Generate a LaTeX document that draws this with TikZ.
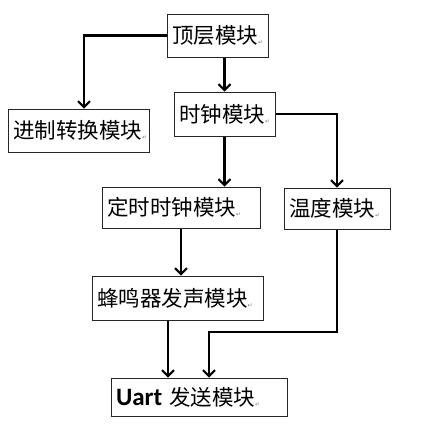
\documentclass[tikz,border=0pt]{standalone}
\usepackage{fontspec}
\usetikzlibrary{arrows.meta}
\newfontfamily\cjk{Noto Sans CJK SC}
\newfontfamily\latinb{Carlito}
\newfontfamily\markfont{DejaVu Sans}
\newcommand{\pmark}{{\markfont\fontsize{6}{6}\selectfont\textcolor{gray}{\raisebox{-1pt}{↵}}}}
\tikzset{
  box/.style={draw=black!85, line width=1pt, rectangle, inner xsep=5pt, inner ysep=0pt,
    align=left, font=\cjk\fontsize{21.5}{24}\selectfont, anchor=center},
  arr/.style={line width=2.4pt, -{Straight Barb[length=6pt,width=12pt,line width=2pt]}}
}
\begin{document}
\begin{tikzpicture}[x=1pt,y=-1pt]
\useasboundingbox (0,0) rectangle (423,426);
\node[box, minimum width=101, minimum height=43, text width=91] (top) at (217.5,35.5) {顶层模块\pmark};
\node[box, minimum width=101, minimum height=44, text width=91] (clk) at (224.5,114) {时钟模块\pmark};
\node[box, minimum width=141, minimum height=43, text width=131] (conv) at (78.5,130.5) {进制转换模块\pmark};
\node[box, minimum width=158, minimum height=41, text width=148] (timer) at (181,207.5) {定时时钟模块\pmark};
\node[box, minimum width=106, minimum height=41, text width=96] (temp) at (337,208.5) {温度模块\pmark};
\node[box, minimum width=171, minimum height=44, text width=161] (buzz) at (177.5,298) {蜂鸣器发声模块\pmark};
\node[box, minimum width=176, minimum height=38, text width=166] (uart) at (199,397) {{\latinb\bfseries\fontsize{25}{24}\selectfont Uart}\hspace{7pt}发送模块\pmark};
\draw[arr] (top.west) -| ([xshift=5.5]conv.north);
\draw[arr] (top.south -| clk.north) -- (clk.north);
\draw[arr] (clk.east) -| (temp.north);
\draw[arr] (clk.south) -- (clk.south |- timer.north);
\draw[arr] (timer.south) -- (timer.south |- buzz.north);
\draw[arr] ([xshift=-9.5]buzz.south) -- ([xshift=-9.5]buzz.south |- uart.north);
\coordinate (j) at (209,332);
\draw[arr] (temp.south) |- (j) -- (j |- uart.north);
\end{tikzpicture}
\end{document}
